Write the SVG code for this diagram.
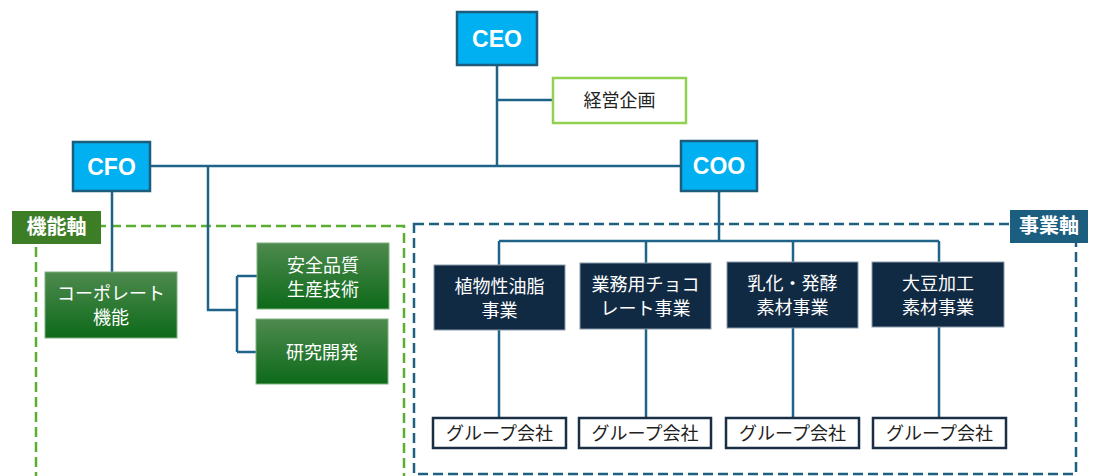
<svg xmlns="http://www.w3.org/2000/svg" width="1094" height="476" viewBox="0 0 1094 476">
<defs>
<linearGradient id="gg" x1="0" y1="0" x2="0" y2="1">
<stop offset="0" stop-color="#4e8a4e"/>
<stop offset="1" stop-color="#0d6a1a"/>
</linearGradient>
<style>
.exec{fill:#00b0f0;stroke:#1e5c7c;stroke-width:2.5}
.exec-t{font-family:"Liberation Sans",Arial,sans-serif;font-weight:bold;font-size:23px;fill:#fff;text-anchor:middle}
.jp{font-family:"Noto Sans CJK JP","Noto Sans",sans-serif;text-anchor:middle}
.green{fill:url(#gg);stroke:#7fb07f;stroke-width:1}
.navy{fill:#112a44;stroke:#8a9aaa;stroke-width:1}
.grp{fill:#fff;stroke:#1a2e44;stroke-width:2.5}
.conn{fill:none;stroke:#1f6388;stroke-width:2.5}
.wt{fill:#fff;font-size:18px}
.bt{fill:#222;font-size:18px}
.lbl{fill:#fff;font-size:20px;font-weight:bold}
</style>
</defs>
<rect width="1094" height="476" fill="#fff"/>
<g id="axis-frames">
<rect x="36" y="226" width="368" height="270" fill="none" stroke="#5aae30" stroke-width="2.5" stroke-dasharray="10,5"/>
<rect x="414" y="224" width="662" height="250" fill="none" stroke="#1f5f7f" stroke-width="2.5" stroke-dasharray="10,5"/>
</g>
<g id="connectors">
<path class="conn" d="M497 65V166M497 100H553M150 166H681"/>
<path class="conn" d="M112 191V272"/>
<path class="conn" d="M208 166V310H237M237 276V352M237 276H257M237 352H256"/>
<path class="conn" d="M719 191V241M499 241H939M499 241V265M646 241V263M793 241V262M939 241V262"/>
<path class="conn" d="M499 330V418M646 329V418M793 328V418M939 327V418"/>
</g>
<g id="ceo"><rect class="exec" x="457" y="12" width="80" height="53"/><text class="exec-t" x="497" y="47">CEO</text></g>
<g id="keiei"><rect x="553" y="78" width="133" height="45" fill="#fff" stroke="#92d050" stroke-width="2.5"/><text class="jp bt" x="619.5" y="107">経営企画</text></g>
<g id="cfo"><rect class="exec" x="73" y="142" width="77" height="49"/><text class="exec-t" x="111.5" y="175">CFO</text></g>
<g id="coo"><rect class="exec" x="681" y="141" width="76" height="50"/><text class="exec-t" x="719" y="174">COO</text></g>
<g id="label-kinou"><rect x="12" y="211" width="89" height="33" fill="#3d7d25"/><text class="jp lbl" x="56.5" y="234">機能軸</text></g>
<g id="label-jigyou"><rect x="1010" y="210" width="78" height="33" fill="#1b5e80"/><text class="jp lbl" x="1049" y="233">事業軸</text></g>
<g id="corporate"><rect class="green" x="45" y="272" width="132" height="66"/><text class="jp wt" x="111" y="300" font-size="17">コーポレート</text><text class="jp wt" x="111" y="324">機能</text></g>
<g id="anzen"><rect class="green" x="257" y="243" width="132" height="66"/><text class="jp wt" x="323" y="272">安全品質</text><text class="jp wt" x="323" y="296">生産技術</text></g>
<g id="kenkyu"><rect class="green" x="256" y="319" width="132" height="65"/><text class="jp wt" x="322" y="359">研究開発</text></g>
<g id="biz1"><rect class="navy" x="434" y="265" width="131" height="65"/><text class="jp wt" x="499.5" y="293">植物性油脂</text><text class="jp wt" x="499.5" y="317">事業</text></g>
<g id="biz2"><rect class="navy" x="580" y="263" width="131" height="66"/><text class="jp wt" x="645.5" y="291">業務用チョコ</text><text class="jp wt" x="645.5" y="315">レート事業</text></g>
<g id="biz3"><rect class="navy" x="727" y="262" width="131" height="66"/><text class="jp wt" x="792.5" y="290">乳化・発酵</text><text class="jp wt" x="792.5" y="314">素材事業</text></g>
<g id="biz4"><rect class="navy" x="872" y="262" width="132" height="65"/><text class="jp wt" x="938" y="290">大豆加工</text><text class="jp wt" x="938" y="314">素材事業</text></g>
<g id="grp1"><rect class="grp" x="433" y="418" width="133" height="30"/><text class="jp bt" x="499.5" y="440" font-size="16">グループ会社</text></g>
<g id="grp2"><rect class="grp" x="579" y="418" width="132" height="30"/><text class="jp bt" x="645" y="440" font-size="16">グループ会社</text></g>
<g id="grp3"><rect class="grp" x="726" y="418" width="133" height="30"/><text class="jp bt" x="792.5" y="440" font-size="16">グループ会社</text></g>
<g id="grp4"><rect class="grp" x="873" y="418" width="133" height="30"/><text class="jp bt" x="939.5" y="440" font-size="16">グループ会社</text></g>
</svg>
